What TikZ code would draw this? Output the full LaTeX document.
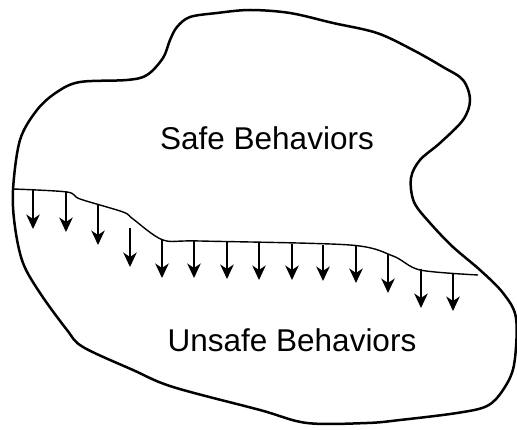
\documentclass[tikz,border=0pt]{standalone}
\usepackage{fontspec}
\setmainfont{Liberation Sans}
\usetikzlibrary{arrows.meta}
\begin{document}
\begin{tikzpicture}[x=1pt,y=-1pt,
  outline/.style={line width=2.5pt,line join=round},
  divider/.style={line width=1.4pt},
  pusharrow/.style={line width=1.5pt,-{Stealth[length=14.5pt,width=13.5pt,inset=4.5pt]}},
  label/.style={font=\fontsize{31.5}{31.5}\selectfont,anchor=base,inner sep=0pt}]
\useasboundingbox (0,0) rectangle (517,430);
% region boundary
\draw[outline] plot[smooth cycle,tension=0.55] coordinates {
  (13,190) (20,140) (37,110) (57,92) (80,82) (127,80) (147,75) (163,58)
  (170,40) (177,27) (190,17) (217,13) (250,10) (290,13) (333,23) (377,33)
  (413,50) (443,67) (463,80) (470,100) (463,120) (440,143) (420,160)
  (411,178) (414,202) (430,223) (453,247) (480,270) (503,293) (516,318)
  (514,365) (503,390) (487,406) (457,413) (400,420) (367,423) (307,423)
  (260,410) (173,387) (133,370) (83,347) (67,330) (40,293) (23,263) (15,227)};
% boundary between safe and unsafe behaviours
\draw[divider] plot[smooth,tension=0.5] coordinates {
  (13,189) (67,192) (80,199) (123,212) (133,219) (163,240) (200,241)
  (350,245) (393,256) (420,270) (478,275)};
% downward pressure arrows
\foreach \i/\x/\ys/\ye in {1/33/190/229, 2/66/191/232, 3/98/205/245, 4/130/228/267,
  5/162/240/278, 6/194/241/278, 7/227/242/279, 8/259/243/280, 9/292/244/280,
  10/323/245/281, 11/356/246/283, 12/388/254/293, 13/421/269/308, 14/453/273/311} {
  \coordinate (s\i) at (\x,\ys);
  \coordinate (e\i) at (\x,\ye);
  \draw[pusharrow] (s\i) -- (e\i);
}
\node[label] (safe) at (267,150) {Safe Behaviors};
\node[label] (unsafe) at (292,352) {Unsafe Behaviors};
\end{tikzpicture}
\end{document}
